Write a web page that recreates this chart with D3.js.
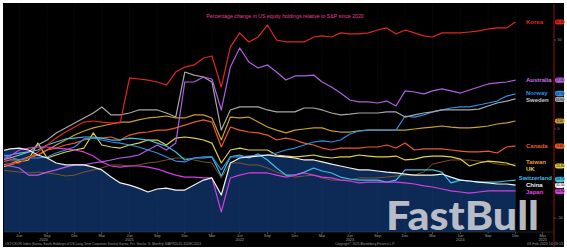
<!DOCTYPE html>
<html><head><meta charset="utf-8">
<script src="https://cdn.jsdelivr.net/npm/d3@7"></script>
<style>html,body{margin:0;padding:0;background:#fff;} svg{display:block;}</style>
</head><body>
<svg id="c" width="567" height="250"></svg>
<script>
// ---- data (monthly, Apr 2020 .. Dec 2024), % change relative to S&P ----
const firstMonth = new Date(2020, 3, 1);
const lastMonthExclusive = new Date(2025, 0, 1);

const korea = [-20.8,-19.7,-19.1,-16.3,-12.9,-9.0,-5.1,-1.7,1.1,3.9, 4.5,3.9,3.4,3.4,28.7,28.1,27.5,26.4,24.7,32.0, 34.8,36.0,39.9,41.0,23.6,46.1,54.0,48.9,51.7,58.4, 50.0,48.9,48.9,48.9,51.7,52.3,51.7,54.0,53.4,53.4, 54.0,55.6,56.8,53.4,55.6,54.0,52.3,51.7,54.0,54.0, 54.0,54.5,55.1,56.2,56.8,56.8,60.1];
const australia = [-20.2,-20.8,-21.9,-25.9,-25.9,-24.2,-23.0,-21.4,-20.2,-20.2, -19.1,-18.5,-17.4,-16.3,-15.7,-14.6,-11.8,-9.0,-11.8,-7.9, 26.4,26.4,29.2,28.1,10.7,34.8,45.5,37.7,34.3,36.0, 32.0,27.5,29.8,29.8,30.3,26.4,23.6,20.2,16.3,15.2, 15.2,14.6,15.7,12.9,21.4,20.8,19.7,21.4,22.5,21.4, 20.2,21.9,23.6,25.3,25.9,26.4,27.5];
const norway = [-14.6,-15.7,-17.4,-16.3,-16.3,-15.7,-13.5,-11.8,-10.1,-5.6, -5.1,-6.2,-7.3,-7.9,-9.0,-10.1,-11.8,-13.5,-15.7,-18.0, -18.5,-16.3,-15.7,-15.7,-23.0,-15.7,-15.7,-15.2,-14.6,-14.6, -13.5,-11.8,-10.7,-9.0,-7.3,-6.7,-7.3,-6.2,-2.8,-1.1, -0.6,-0.6,-0.6,-0.6,7.3,6.7,7.9,9.6,10.7,11.8, 12.4,12.4,13.5,14.6,15.7,18.5,19.7];
const sweden = [-17.4,-16.3,-14.6,-12.9,-9.0,-6.2,-2.2,0.6,3.4,6.2, 9.0,12.4,7.9,7.9,9.0,10.7,10.7,10.7,9.0,6.7, 32.0,30.3,29.2,26.4,-0.6,10.7,12.4,12.4,12.4,10.7, 9.6,9.6,9.6,11.8,11.8,10.7,9.0,7.9,8.4,9.0, 9.0,9.0,9.6,9.6,6.7,7.9,9.0,9.6,10.7,10.7, 10.7,10.7,11.2,12.9,14.6,15.7,16.9];
const unlabeled = [-20.2,-19.7,-17.4,-15.7,-14.6,-11.8,-9.0,-6.2,-3.4,-1.1, 0.6,1.7,2.8,3.9,3.9,5.1,6.2,6.7,7.3,6.2, 6.2,7.9,7.9,6.2,-6.2,6.7,6.2,6.7,3.9,1.1, -0.6,-2.2,-0.6,0,0.6,0.6,-1.1,-1.7,-1.7,-1.1, -0.6,-0.6,-0.6,-0.6,-0.6,0,0.6,1.1,1.7,1.1, 0.6,0.6,1.1,1.7,2.8,3.4,4.5];
const canada = [-18.5,-17.4,-17.4,-16.3,-14.6,-11.8,-10.7,-9.0,-7.9,-6.2, -5.1,-5.1,-4.5,-6.2,-3.4,-2.2,-1.7,-0.6,-0.6,0.6, 2.2,3.9,5.1,3.9,-10.1,1.1,-0.6,-1.7,-2.2,-3.4, -6.2,-5.1,-6.2,-7.9,-9.0,-10.7,-11.8,-10.7,-10.7,-10.7, -10.1,-10.1,-9.0,-10.7,-7.9,-11.8,-11.2,-11.2,-11.2,-11.8, -12.4,-12.9,-12.9,-12.4,-13.5,-10.1,-9.6];
const taiwan = [-23.0,-23.6,-24.2,-24.7,-24.2,-24.7,-25.3,-26.4,-25.9,-24.2, -23.0,-21.9,-20.2,-20.2,-20.8,-20.2,-19.1,-18.5,-17.4,-16.3, -16.3,-17.4,-18.5,-19.1,-27.5,-19.1,-19.1,-20.2,-20.2,-21.9, -24.2,-25.9,-27.0,-26.4,-25.9,-27.5,-28.7,-28.7,-28.7,-27.5, -27.5,-27.5,-27.0,-26.4,-25.9,-25.9,-24.2,-19.7,-18.5,-17.4, -17.4,-17.4,-18.0,-18.5,-19.7,-20.2,-19.7];
const uk = [-21.4,-20.2,-18.5,-17.4,-7.9,-16.3,-14.6,-12.9,-11.8,-10.7, -2.2,-9.0,-10.1,-10.7,-9.0,-7.9,-6.2,-6.2,-9.0,-5.1, -4.5,-5.1,-6.2,-7.9,-19.1,-11.8,-10.7,-11.8,-11.8,-11.8, -14.6,-15.2,-15.7,-15.2,-14.6,-15.7,-16.3,-15.7,-15.7,-14.6, -15.2,-15.7,-15.7,-15.2,-17.4,-16.9,-15.7,-15.2,-15.2,-15.7, -16.9,-20.8,-19.1,-18.0,-18.5,-19.1,-20.8];
const switzerland = [-15.2,-14.6,-13.5,-12.9,-11.8,-9.0,-7.3,-5.6,-5.1,-4.5, -4.5,-5.1,-6.2,-6.2,-5.1,-5.6,-6.2,-7.9,-9.6,-12.9, -17.4,-16.3,-16.3,-15.7,-26.4,-15.7,-14.6,-16.3,-14.0,-17.4, -21.9,-25.9,-25.9,-24.2,-21.9,-23.6,-24.7,-27.0,-28.1,-28.7, -28.7,-28.7,-29.8,-28.7,-23.0,-23.0,-23.0,-23.0,-24.2,-30.3, -28.7,-29.2,-29.8,-29.8,-29.8,-29.2,-28.7];
const china = [-12.4,-11.2,-10.7,-11.8,-14.6,-16.3,-19.1,-20.2,-20.2,-20.2, -21.4,-23.0,-27.0,-30.3,-31.5,-33.2,-35.4,-33.7,-33.2,-34.3, -34.3,-31.5,-28.7,-27.5,-37.1,-19.1,-16.3,-15.7,-15.2,-14.6, -15.2,-15.7,-16.3,-17.4,-17.4,-18.5,-19.7,-20.8,-21.9,-23.0, -23.0,-23.6,-24.2,-24.7,-25.3,-25.9,-25.9,-25.9,-25.3,-27.0, -28.7,-29.2,-29.8,-30.3,-30.9,-30.9,-31.5];
const japan = [-17.4,-15.2,-11.8,-10.7,-10.1,-10.1,-10.7,-11.2,-11.8,-12.9, -15.2,-18.5,-20.8,-21.4,-20.8,-20.8,-21.4,-22.5,-24.2,-25.9, -27.0,-27.0,-27.5,-27.5,-46.6,-27.5,-25.9,-24.7,-24.7,-24.7, -25.9,-27.0,-25.9,-24.7,-25.9,-27.0,-27.5,-28.7,-29.2,-30.3, -29.8,-29.8,-29.8,-29.8,-30.3,-30.9,-32.0,-32.6,-33.7,-34.8, -35.4,-36.0,-35.4,-34.8,-34.8,-34.8,-34.8];

const yTicks = [-50, 0, 50];
const title = "Percentage change in US equity holdings relative to S&P since 2020";
const yearLabels = ["2020","2021","2022","2023","2024","2025"];

// ---- series table (data + style) ----
const series = [
  {name:"Taiwan", values:taiwan, color:"#8a5a22", labelColor:"#e69a2e", label:true, tag:false, w:0.9},
  {name:"", values:unlabeled, color:"#c9a02a", label:false, tag:true, w:1.2},
  {name:"Canada", values:canada, color:"#ec5a2a", labelColor:"#ec5a2a", label:true, tag:true, w:1.2},
  {name:"UK", values:uk, color:"#e2d23a", labelColor:"#e2d23a", label:true, tag:true, w:1.2},
  {name:"Switzerland", values:switzerland, color:"#3cbfea", labelColor:"#3cbfea", label:true, tag:true, w:1.2},
  {name:"Norway", values:norway, color:"#2f8ee6", labelColor:"#2f8ee6", label:true, tag:true, w:1.2},
  {name:"Sweden", values:sweden, color:"#a8a8a8", labelColor:"#c8c8c8", label:true, tag:true, w:1.2},
  {name:"Australia", values:australia, color:"#b25ee6", labelColor:"#c070f0", label:true, tag:true, w:1.2},
  {name:"Korea", values:korea, color:"#e2261f", labelColor:"#e2261f", label:true, tag:true, w:1.2},
  {name:"Japan", values:japan, color:"#d53fe2", labelColor:"#e040ea", label:true, tag:true, w:1.2},
  {name:"China", values:china, color:"#f2f2f2", labelColor:"#f2f2f2", label:true, tag:true, w:1.2}
];

const months = d3.timeMonth.range(firstMonth, lastMonthExclusive);
series.forEach(s => { s.points = s.values.map((v,i)=>({date:months[i], v})); });

// ---- layout ----
const svg = d3.select("#c");
const P = {l:4, r:553, t:4, b:232};
svg.append("rect").attr("x",3).attr("y",3).attr("width",561).attr("height",244).attr("fill","#000");

const x = d3.scaleTime().domain([new Date(2020,3,11), new Date(2025,3,4)]).range([P.l, P.r]);
const y = d3.scaleLinear().domain([-50, 50]).range([218, 40]);

svg.append("clipPath").attr("id","clip").append("rect")
  .attr("x",P.l).attr("y",P.t).attr("width",P.r-P.l).attr("height",P.b-P.t);
const g = svg.append("g").attr("clip-path","url(#clip)");

// area under China
const chinaS = series.find(s=>s.name==="China");
g.append("path").datum(chinaS.points)
  .attr("d", d3.area().x(d=>x(d.date)).y0(P.b).y1(d=>y(d.v)))
  .attr("fill","#0c2a55");

// quarterly grid
const quarterly = d3.timeMonth.filter(d => d.getMonth() % 3 === 2);
const qTicks = x.ticks(quarterly);
g.selectAll(".grid").data(qTicks).join("line")
  .attr("x1",d=>x(d)).attr("x2",d=>x(d)).attr("y1",P.t).attr("y2",P.b)
  .attr("stroke","#5a6a80").attr("stroke-opacity",0.28).attr("stroke-width",0.6)
  .attr("stroke-dasharray","1,1.5");

// lines
const line = d3.line().x(d=>x(d.date)).y(d=>y(d.v));
g.selectAll(".ln").data(series).join("path")
  .attr("d", s=>line(s.points)).attr("fill","none")
  .attr("stroke", s=>s.color).attr("stroke-width", s=>s.w)
  .attr("stroke-linejoin","round");

// right edge marker line
svg.append("line").attr("x1",554).attr("x2",554).attr("y1",P.t).attr("y2",247)
  .attr("stroke","#b8141c").attr("stroke-width",0.8);

// title
svg.append("text").attr("x",285).attr("y",17.5).attr("text-anchor","middle")
  .attr("font-family","Liberation Sans, Arial, sans-serif").attr("font-size",5.2)
  .attr("fill","#e0409a").text(title);

// relaxation helper
function relax(items, gap){
  items.sort((a,b)=>a.y-b.y);
  for(let it=0; it<60; it++){
    for(let i=1;i<items.length;i++){
      const d = items[i].y - items[i-1].y;
      if(d<gap){ const s=(gap-d)/2; items[i-1].y-=s; items[i].y+=s; }
    }
  }
  return items;
}

// in-plot labels
const labs = relax(series.filter(s=>s.label).map(s=>({s, y:y(s.values[s.values.length-1])})), 7);
labs.forEach(o=>{
  const t = svg.append("text").attr("x",526).attr("y",o.y).attr("dy","0.35em")
    .attr("font-family","Liberation Sans, Arial, sans-serif").attr("font-size",6)
    .attr("font-weight","bold").attr("fill",o.s.labelColor).text(o.s.name);
  const w = t.node().getComputedTextLength();
  if (526 + w > 552) t.attr("x", 552 - w);
});

// right-side value tags
const tags = relax(series.filter(s=>s.tag).map(s=>({s, v:s.values[s.values.length-1], y:y(s.values[s.values.length-1])})), 6);
tags.forEach(o=>{
  svg.append("rect").attr("x",555).attr("y",o.y-2.6).attr("width",9.5).attr("height",5.2)
    .attr("rx",2).attr("fill",o.s.color);
  svg.append("text").attr("x",559.7).attr("y",o.y).attr("dy","0.35em").attr("text-anchor","middle")
    .attr("font-family","Liberation Sans, Arial, sans-serif").attr("font-size",3.2)
    .attr("fill","#000").text(o.v.toFixed(2));
});

// right axis ticks
yTicks.forEach(v=>{
  svg.append("line").attr("x1",554).attr("x2",556).attr("y1",y(v)).attr("y2",y(v)).attr("stroke","#888").attr("stroke-width",0.5);
  svg.append("text").attr("x",557.5).attr("y",y(v)).attr("dy","0.35em")
    .attr("font-family","Liberation Sans, Arial, sans-serif").attr("font-size",3.6)
    .attr("fill","#9a9a9a").text(v);
});

// bottom axis
svg.append("line").attr("x1",P.l).attr("x2",P.r).attr("y1",P.b).attr("y2",P.b).attr("stroke","#444").attr("stroke-width",0.5);
svg.selectAll(".qt").data(qTicks).join("line")
  .attr("x1",d=>x(d)).attr("x2",d=>x(d)).attr("y1",P.b).attr("y2",P.b+2)
  .attr("stroke","#8a8a8a").attr("stroke-width",0.5);
svg.selectAll(".ql").data(qTicks).join("text")
  .attr("x",d=>x(d)).attr("y",236.5).attr("text-anchor","middle")
  .attr("font-family","Liberation Sans, Arial, sans-serif").attr("font-size",3.8)
  .attr("fill","#a0a0a0").text(d3.timeFormat("%b"));
const yearPos = [new Date(2020,7,20), new Date(2021,5,1), new Date(2022,5,1), new Date(2023,5,1), new Date(2024,5,1), new Date(2025,2,1)];
yearLabels.forEach((t,i)=>{
  svg.append("text").attr("x",x(yearPos[i])).attr("y",240.5).attr("text-anchor","middle")
    .attr("font-family","Liberation Sans, Arial, sans-serif").attr("font-size",3.8)
    .attr("fill","#a0a0a0").text(t);
});

// footer
const foot = (t,xp,anchor,len)=>{
  const e = svg.append("text").attr("x",xp).attr("y",245).attr("text-anchor",anchor)
    .attr("font-family","Liberation Sans, Arial, sans-serif").attr("font-size",3.5)
    .attr("fill","#9a9a9a").text(t);
  if(len) e.attr("textLength",len).attr("lengthAdjust","spacingAndGlyphs");
};
foot("USTICKOR Index (Korea, South Holdings of US Long-Term Corporate Stocks) Korea, Pct. Stocks, S.  Monthly 30APR2020-31DEC2024", 5, "start", 196);
foot("Copyright\u00A9 2025 Bloomberg Finance L.P.", 365, "middle", 60);
foot("03-Feb-2025 14:19:13", 563, "end", 36);

// watermark
svg.append("text").attr("x",386).attr("y",230)
  .attr("font-family","Lato, Inter, sans-serif").attr("font-weight",900).attr("font-size",40)
  .attr("fill","#c9ccd3").attr("fill-opacity",0.93)
  .attr("textLength",153).attr("lengthAdjust","spacingAndGlyphs").text("FastBull");
</script>
</body></html>
